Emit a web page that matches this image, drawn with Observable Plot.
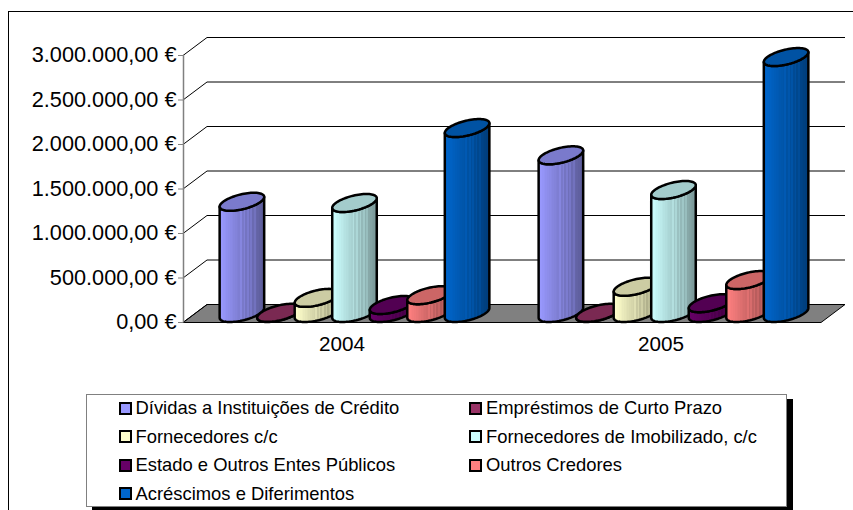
<!DOCTYPE html>
<html lang="pt">
<head>
<meta charset="utf-8">
<script src="https://cdn.jsdelivr.net/npm/d3@7"></script>
<script src="https://cdn.jsdelivr.net/npm/@observablehq/plot@0.6"></script>
<style>
  html, body { margin: 0; padding: 0; background: #fff; overflow: hidden; }
  #page { position: relative; width: 853px; height: 510px; overflow: hidden; font-family: "Liberation Sans", Arial, sans-serif; color: #000; }
  #frame { position: absolute; left: 8px; top: 11px; width: 860px; height: 520px; border: 1px solid #000; box-sizing: border-box; pointer-events: none; }
  #chart { position: absolute; left: 0; top: 0; }
  #legend { position: absolute; left: 86px; top: 394px; width: 701px; height: 113px; box-sizing: border-box; border: 1px solid #808080; background: #fff; box-shadow: 6px 5px 0 #000; }
  .item { position: absolute; display: flex; align-items: center; height: 20px; font-size: 18.4px; white-space: nowrap; }
  .swatch { width: 13px; height: 13px; box-sizing: border-box; border: 2px solid #000; margin-right: 4px; flex: none; }
</style>
</head>
<body>
<div id="page">
  <div id="frame"></div>
  <div id="chart"></div>
  <div id="legend"></div>
</div>
<script>
const years = ["2004", "2005"];
const seriesNames = [
  "Dívidas a Instituições de Crédito",
  "Empréstimos de Curto Prazo",
  "Fornecedores c/c",
  "Fornecedores de Imobilizado, c/c",
  "Estado e Outros Entes Públicos",
  "Outros Credores",
  "Acréscimos e Diferimentos"
];
const seriesColors = ["#9999FF", "#993366", "#FFFFCC", "#CCFFFF", "#660066", "#FF8080", "#0066CC"];
const values2004 = [1250000, 2000, 170000, 1236000, 90000, 200000, 2078000];
const values2005 = [1772000, 2000, 295000, 1382000, 110000, 370000, 2876000];
const yTicks = [0, 500000, 1000000, 1500000, 2000000, 2500000, 3000000];

const rows = [
  ...seriesNames.map((series, i) => ({year: years[0], series, value: values2004[i]})),
  ...seriesNames.map((series, i) => ({year: years[1], series, value: values2005[i]}))
];

const ptPT = d3.formatLocale({decimal: ",", thousands: ".", grouping: [3], currency: ["", " €"]});
const euro = ptPT.format("$,.2f");

// Depth of the 3D floor, in pixels
const depthX = 24, depthY = 18;

function backdrop(index, scales, values, dims) {
  const g = d3.create("svg:g");
  const x0 = dims.marginLeft;
  const x1 = x0 + (dims.width - dims.marginLeft - dims.marginRight) * years.length;
  const y = scales.y, y0 = y(0);
  g.append("path")
    .attr("d", `M${x0},${y0 + 0.5}L${x1},${y0 + 0.5}L${x1 + depthX},${y0 - depthY + 0.5}L${x0 + depthX},${y0 - depthY + 0.5}Z`)
    .attr("fill", "#808080").attr("stroke", "#000").attr("stroke-width", 1);
  for (const t of yTicks) {
    const yy = y(t) + 0.5;
    if (t > 0) {
      g.append("line").attr("x1", x0 + depthX).attr("x2", x1 + depthX)
        .attr("y1", yy - depthY).attr("y2", yy - depthY)
        .attr("stroke", "#000").attr("stroke-width", 1);
    }
    g.append("line").attr("x1", x0).attr("x2", x0 + depthX)
      .attr("y1", yy).attr("y2", yy - depthY)
      .attr("stroke", "#000").attr("stroke-width", 1);
  }
  g.append("line").attr("x1", x0 + 0.5).attr("x2", x0 + 0.5)
    .attr("y1", y(yTicks[yTicks.length - 1])).attr("y2", y0 + 0.5)
    .attr("stroke", "#808080").attr("stroke-width", 1.5);
  return g.node();
}

function shade(color, k) {
  const c = d3.rgb(color);
  return d3.rgb(Math.min(255, c.r * k), Math.min(255, c.g * k), Math.min(255, c.b * k)).formatHex();
}

let gradientId = 0;
function cylinders(index, scales, values) {
  const {x, y, color} = scales;
  const g = d3.create("svg:g").attr("stroke", "#000").attr("stroke-width", 2.5).attr("stroke-linejoin", "round");
  const defs = g.append("defs");
  const A = x.bandwidth() / 2, B = depthX / 2, C = depthY / 2;
  const tR = Math.atan2(B, A);
  const pt = (cx, cy, t) => [cx + A * Math.cos(t) + B * Math.sin(t), cy - C * Math.sin(t)];
  for (const i of index) {
    const d = rows[i];
    const cx = x(d.series) + A + B;
    const base = y(0) - C, top = y(d.value) - C;
    const col = color(d.series);
    const id = `cyl-${gradientId++}`;
    const grad = defs.append("linearGradient").attr("id", id);
    const bands = 26;
    for (let b = 0; b < bands; ++b) {
      const p = b / bands;
      let k = 1.0 - 0.42 * p;
      if (p > 0.42 && p < 0.8 && b % 2 === 0) k += 0.07;
      grad.append("stop").attr("offset", p).attr("stop-color", shade(col, k));
      grad.append("stop").attr("offset", (b + 1) / bands).attr("stop-color", shade(col, k));
    }
    const body = [];
    body.push(pt(cx, top, tR + Math.PI));
    for (let s = 0; s <= 40; ++s) body.push(pt(cx, base, tR + Math.PI + Math.PI * s / 40));
    for (let s = 0; s <= 40; ++s) body.push(pt(cx, top, tR + 2 * Math.PI - Math.PI * s / 40));
    g.append("path").attr("d", d3.line()(body) + "Z").attr("fill", `url(#${id})`);
    const ell = d3.range(0, 81).map(s => pt(cx, top, 2 * Math.PI * s / 80));
    g.append("path").attr("d", d3.line()(ell) + "Z").attr("fill", shade(col, 0.8));
  }
  return g.node();
}

const plot = Plot.plot({
  width: 853,
  height: 375,
  marginTop: 55,
  marginBottom: 53,
  marginLeft: 183,
  marginRight: 32,
  style: {fontFamily: "'Liberation Sans', Arial, sans-serif", background: "transparent", color: "#000", overflow: "visible"},
  fx: {domain: years, padding: 0, label: null},
  x: {domain: seriesNames, paddingInner: 0, paddingOuter: 0.75, round: false, axis: null},
  y: {domain: [0, 3000000], label: null},
  color: {domain: seriesNames, range: seriesColors},
  marks: [
    Plot.ruleY(yTicks, {y: d => d, facetAnchor: "left", render: backdrop}),
    Plot.axisY(yTicks, {
      anchor: "left", label: null, tickSize: 5, tickPadding: 2, stroke: "#808080", fill: "#000",
      fontSize: 21.7, tickFormat: euro
    }),
    Plot.axisFx({anchor: "bottom", label: null, tickSize: 0, tickPadding: 14, dx: -1, fontSize: 20.7, fill: "#000"}),
    Plot.barY(rows, {fx: "year", x: "series", y1: 0, y2: "value", fill: "series", render: cylinders})
  ]
});
document.getElementById("chart").append(plot);

const legend = document.getElementById("legend");
seriesNames.forEach((name, i) => {
  const item = document.createElement("div");
  item.className = "item";
  item.style.left = (i % 2 ? 382 : 31.5) + "px";
  item.style.top = (3 + 28.5 * Math.floor(i / 2)) + "px";
  const sw = document.createElement("span");
  sw.className = "swatch";
  sw.style.background = seriesColors[i];
  const label = document.createElement("span");
  label.textContent = name;
  item.append(sw, label);
  legend.append(item);
});
</script>
</body>
</html>
